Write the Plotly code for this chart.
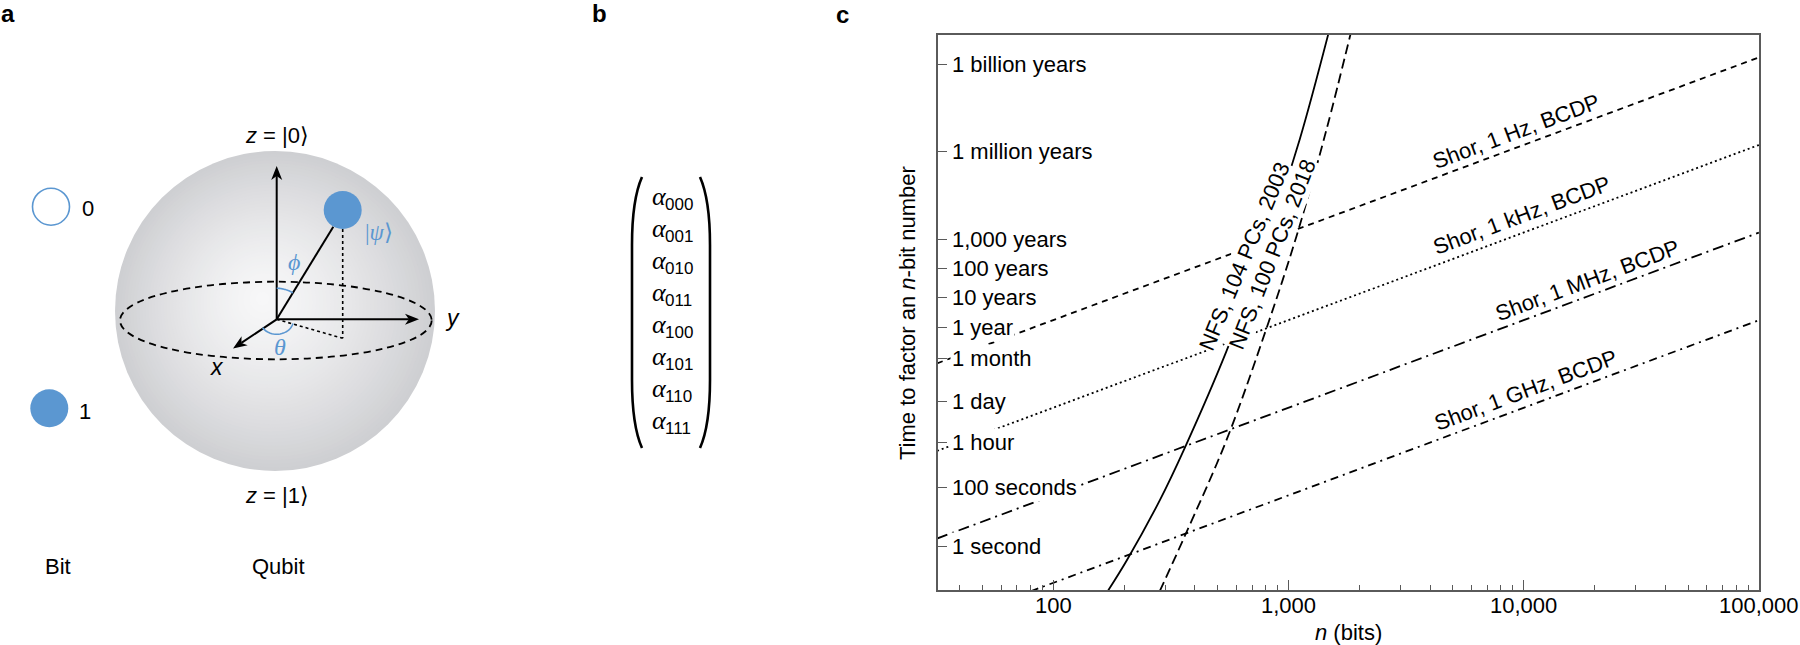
import math
import numpy as np
import plotly.graph_objects as go

# ---- panel c: time to factor an n-bit number ----
shor_n = [32, 1000, 100000]
shor_1hz_s = [1.8e6, 5.4e10, 5.4e16]
shor_1khz_s = [1.8e3, 5.4e7, 5.4e13]
shor_1mhz_s = [1.8, 5.4e4, 5.4e10]
shor_1ghz_s = [1.8e-3, 54, 5.4e7]

nfs2003_n = [170, 205, 284, 362, 545, 800, 1116, 1477]
nfs2003_s = [0.028, 0.32, 38, 2300, 4.8e6, 2.0e10, 8.5e13, 3.5e17]

nfs2018_n = [283, 362, 545, 805, 1080, 1449, 1836]
nfs2018_s = [0.028, 2.2, 4300, 2.8e7, 4.0e10, 1.8e14, 3.5e17]

x_tick_vals = [100, 1000, 10000, 100000]
x_tick_text = ["100", "1,000", "10,000", "100,000"]

y_tick_text = ["1 second", "100 seconds", "1 hour", "1 day", "1 month", "1 year",
               "10 years", "100 years", "1,000 years", "1 million years", "1 billion years"]
y_tick_s = [1, 100, 3600, 86400, 2.63e6, 3.156e7,
            3.156e8, 3.156e9, 3.156e10, 3.156e13, 3.156e16]

# ---- panel b: amplitudes of a 3-qubit state ----
amp_labels = ["000", "001", "010", "011", "100", "101", "110", "111"]

W, H = 1800, 645
FONT = "Liberation Sans, Arial, Helvetica, sans-serif"
SERIF = "Liberation Serif, Times New Roman, serif"
BLUE = "#5b97d1"
AXIS = "#5a5a5a"

fig = go.Figure()

shor_series = [
    ("Shor, 1 Hz, BCDP", shor_1hz_s, "6px,5px"),
    ("Shor, 1 kHz, BCDP", shor_1khz_s, "2px,3px"),
    ("Shor, 1 MHz, BCDP", shor_1mhz_s, "11px,5px,2px,5px"),
    ("Shor, 1 GHz, BCDP", shor_1ghz_s, "8px,5px,2px,5px"),
]
for name, secs, dash in shor_series:
    fig.add_trace(go.Scatter(x=shor_n, y=secs, mode="lines", name=name,
                             line=dict(color="black", width=1.8, dash=dash),
                             hoverinfo="skip"))

fig.add_trace(go.Scatter(x=nfs2003_n, y=nfs2003_s, mode="lines", name="NFS 2003",
                         line=dict(color="black", width=1.8, shape="spline"),
                         hoverinfo="skip"))
fig.add_trace(go.Scatter(x=nfs2018_n, y=nfs2018_s, mode="lines", name="NFS 2018",
                         line=dict(color="black", width=1.8, shape="spline", dash="10px,5px"),
                         hoverinfo="skip"))

minor_x = [m * 10 ** d for d in range(1, 5) for m in range(2, 10) if m * 10 ** d > 32]


# ---- drawing helpers for panels a and b (pixel coordinates on x2/y2) ----
def seg(x0, y0, x1, y1, width=2, dash="solid", color="black"):
    return dict(type="line", xref="x2", yref="y2", x0=x0, y0=y0, x1=x1, y1=y1,
                line=dict(color=color, width=width, dash=dash))


def arrow(x0, y0, x1, y1, head=14, half=5.5):
    L = math.hypot(x1 - x0, y1 - y0)
    ux, uy = (x1 - x0) / L, (y1 - y0) / L
    px_, py_ = -uy, ux
    bx, by = x1 - ux * head, y1 - uy * head
    nx, ny = x1 - ux * head * 0.72, y1 - uy * head * 0.72
    path = (f"M {x1},{y1} L {bx + px_ * half},{by + py_ * half} L {nx},{ny} "
            f"L {bx - px_ * half},{by - py_ * half} Z")
    return [seg(x0, y0, nx, ny),
            dict(type="path", xref="x2", yref="y2", path=path,
                 fillcolor="black", line=dict(width=0))]


def arc(cx, cy, rx, ry, a0, a1, n=24):
    pts = [(cx + rx * math.cos(math.radians(a)), cy + ry * math.sin(math.radians(a)))
           for a in np.linspace(a0, a1, n)]
    return "M " + " L ".join(f"{x:.1f},{y:.1f}" for x, y in pts)


def label(x, y, text, size=22, color="black", family=FONT, angle=0, **kw):
    return dict(x=x, y=y, xref="x2", yref="y2", text=text, showarrow=False,
                font=dict(size=size, color=color, family=family), textangle=angle, **kw)


shapes = []

# sphere with a soft radial shading
SX, SY, SR = 275, 311, 160
HX, HY = 262, 298
edge = np.array([206, 207, 210])
core = np.array([247, 247, 248])
N = 48
for k in range(N):
    f = k / N
    r = SR * (1 - f)
    cx = SX + (HX - SX) * f
    cy = SY + (HY - SY) * f
    c = core + (edge - core) * (r / SR) ** 1.4
    shapes.append(dict(type="circle", xref="x2", yref="y2", layer="below",
                       x0=cx - r, x1=cx + r, y0=cy - r, y1=cy + r,
                       fillcolor=f"rgb({c[0]:.0f},{c[1]:.0f},{c[2]:.0f})",
                       line=dict(width=0)))

# equator
shapes.append(dict(type="circle", xref="x2", yref="y2", x0=120, x1=431.7, y0=281.7, y1=359.3,
                   line=dict(color="black", width=1.8, dash="7px,5px")))

OX, OY = 276.7, 319.3
PSX, PSY = 342.7, 338.3
shapes += arrow(OX, OY, OX, 166)
shapes += arrow(OX, OY, 419, OY)
shapes += arrow(OX, OY, 233, 348.5)
shapes.append(seg(OX, OY, 333.3, 226.7, width=2))
shapes.append(seg(342.7, 229, PSX, PSY, width=1.6, dash="dot"))
shapes.append(seg(OX, OY, PSX, PSY, width=1.6, dash="dot"))
shapes.append(dict(type="circle", xref="x2", yref="y2", x0=342.7 - 19, x1=342.7 + 19,
                   y0=210 - 19, y1=210 + 19, fillcolor=BLUE, line=dict(width=0)))
shapes.append(dict(type="path", xref="x2", yref="y2", path=arc(OX, OY, 31, 31, -90, -58.6),
                   line=dict(color=BLUE, width=1.6)))
shapes.append(dict(type="path", xref="x2", yref="y2", path=arc(OX, OY, 17, 15, 146, 16),
                   line=dict(color=BLUE, width=1.6)))

# classical bit states
shapes.append(dict(type="circle", xref="x2", yref="y2", x0=51 - 18.5, x1=51 + 18.5,
                   y0=206.7 - 18.5, y1=206.7 + 18.5, fillcolor="white",
                   line=dict(color=BLUE, width=1.6)))
shapes.append(dict(type="circle", xref="x2", yref="y2", x0=49.3 - 19, x1=49.3 + 19,
                   y0=408.3 - 19, y1=408.3 + 19, fillcolor=BLUE, line=dict(width=0)))

# column vector brackets
shapes.append(dict(type="path", xref="x2", yref="y2",
                   path="M 642,177 C 634,195 632,220 632,245 L 632,380 C 632,405 634,430 642,448",
                   line=dict(color="black", width=2.6)))
shapes.append(dict(type="path", xref="x2", yref="y2",
                   path="M 700,177 C 708,195 710,220 710,245 L 710,380 C 710,405 708,430 700,448",
                   line=dict(color="black", width=2.6)))

annotations = [
    label(8, 13, "<b>a</b>", size=24),
    label(599, 13, "<b>b</b>", size=24),
    label(842, 14, "<b>c</b>", size=24),
    label(88, 208, "0"),
    label(85, 411, "1"),
    label(58, 566, "Bit"),
    label(278, 566, "Qubit"),
    label(277, 135, "<i>z</i> = |0⟩"),
    label(277, 495, "<i>z</i> = |1⟩"),
    label(217, 367, "<i>x</i>", size=23),
    label(452, 318, "<i>y</i>", size=23),
    label(294, 262, "<i>ϕ</i>", size=24, color=BLUE, family=SERIF),
    label(280, 347, "<i>θ</i>", size=24, color=BLUE, family=SERIF),
    label(379, 232, "|<i>ψ</i>⟩", size=23, color=BLUE, family=SERIF),
]

# amplitudes: serif alpha with a sans subscript, one row per basis state
for i, b in enumerate(amp_labels):
    row_y = 196.7 + i * 31.9
    annotations.append(label(659, row_y, "<i>α</i>", size=26, family=SERIF))
    annotations.append(label(663, row_y + 8, b, size=17, xanchor="left"))

# panel c texts: tick labels drawn as annotations so they can mask the lines like the original
for txt, v in zip(y_tick_text, y_tick_s):
    annotations.append(dict(x=950, y=math.log10(v), xref="x2", yref="y", text=txt,
                            showarrow=False, xanchor="left", bgcolor="white", borderpad=1,
                            font=dict(size=22, color="black", family=FONT)))
for txt, v in zip(x_tick_text, x_tick_vals):
    annotations.append(dict(x=math.log10(v), y=605, xref="x", yref="y2", text=txt,
                            showarrow=False, font=dict(size=22, color="black", family=FONT)))

shor_pos = [(1516, 131), (1521, 215), (1587, 280), (1525, 390)]
for (name, _, _), (lx, ly) in zip(shor_series, shor_pos):
    annotations.append(label(lx, ly, name, angle=-20.5))
annotations.append(label(1244, 256, "NFS, 104 PCs, 2003", angle=-67.3, bgcolor="white", borderpad=0))
annotations.append(label(1272, 254, "NFS, 100 PCs, 2018", angle=-68.6, bgcolor="white", borderpad=0))
annotations.append(label(907, 313, "Time to factor an <i>n</i>-bit number", angle=-90))
annotations.append(label(1348, 632, "<i>n</i> (bits)"))

fig.update_layout(
    width=W, height=H,
    margin=dict(l=0, r=0, t=0, b=0),
    paper_bgcolor="white", plot_bgcolor="rgba(0,0,0,0)",
    showlegend=False,
    font=dict(family=FONT, size=22, color="black"),
    xaxis=dict(type="log", range=[1.508, 5.0005], domain=[937.7 / W, 1759 / W],
               anchor="y", showline=True, linecolor=AXIS, linewidth=1.5, mirror=True,
               ticks="inside", ticklen=10, tickwidth=1.2, tickcolor=AXIS,
               tickvals=x_tick_vals, showticklabels=False,
               minor=dict(ticks="inside", ticklen=5, tickwidth=1.2, tickcolor=AXIS,
                          tickvals=minor_x, showgrid=False),
               showgrid=False, zeroline=False),
    yaxis=dict(type="log", range=[-1.507, 17.5], domain=[1 - 590 / H, 1 - 35 / H],
               anchor="x", showline=True, linecolor=AXIS, linewidth=1.5, mirror=True,
               ticks="inside", ticklen=10, tickwidth=1.2, tickcolor=AXIS,
               tickvals=y_tick_s, showticklabels=False,
               showgrid=False, zeroline=False),
    xaxis2=dict(domain=[0, 1], range=[0, W], visible=False, anchor="y2", fixedrange=True),
    yaxis2=dict(domain=[0, 1], range=[H, 0], visible=False, anchor="x2", fixedrange=True),
    shapes=shapes,
    annotations=annotations,
)

# drop the default page margin so the 1800x645 figure fills the window exactly
fig.write_html("out.html", config={"displayModeBar": False},
               post_script="document.body.style.margin='0';document.body.style.overflow='hidden';")
